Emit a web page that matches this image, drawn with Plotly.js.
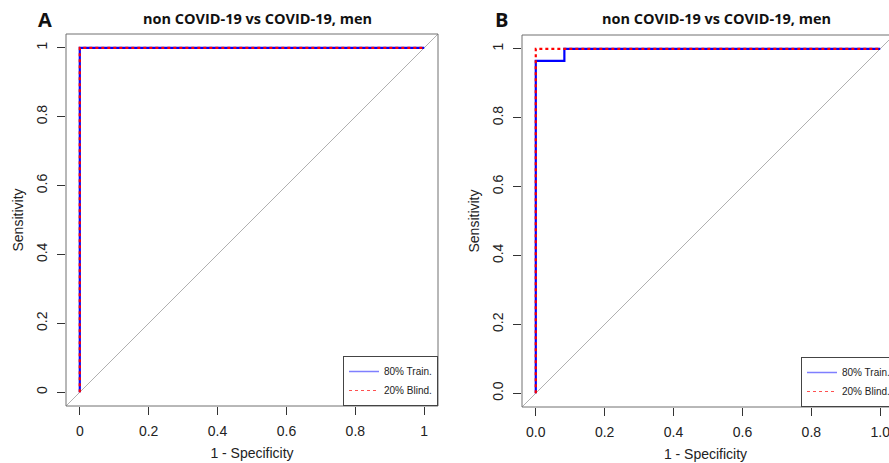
<!DOCTYPE html>
<html>
<head>
<meta charset="utf-8">
<script src="https://cdn.plot.ly/plotly-3.0.1.min.js"></script>
<style>html,body{margin:0;padding:0;background:#fff;}#chart{width:889px;height:463px;}</style>
</head>
<body>
<div id="chart"></div>
<script>
// ROC data (1 - specificity, sensitivity)
const panelTitles = ["non COVID-19 vs COVID-19, men", "non COVID-19 vs COVID-19, men"];
const panelLetters = ["A", "B"];
const seriesNames = ["80% Train.", "20% Blind."];

const fprA_train = [0, 0, 1];
const tprA_train = [0, 1, 1];
const fprA_blind = [0, 0, 1];
const tprA_blind = [0, 1, 1];

const fprB_train = [0, 0, 0.083, 0.083, 1];
const tprB_train = [0, 0.965, 0.965, 1, 1];
const fprB_blind = [0, 0, 1];
const tprB_blind = [0, 1, 1];

const diagX = [-0.04, 1.04];
const diagY = [-0.04, 1.04];

const tickVals = [0, 0.2, 0.4, 0.6, 0.8, 1];
const xTickTextA = ["0", "0.2", "0.4", "0.6", "0.8", "1"];
const yTickTextA = ["0", "0.2", "0.4", "0.6", "0.8", "1"];
const xTickTextB = ["0.0", "0.2", "0.4", "0.6", "0.8", "1.0"];
const yTickTextB = ["0.0", "0.2", "0.4", "0.6", "0.8", "1"];

const W = 889, H = 463;
const px = v => v / W;
const py = v => 1 - v / H;

const BLUE = "#0000ff";
const RED = "#ff0000";
const GRID = "#b0b0b0";
const BOX = "#707070";
const FONT = "Liberation Sans, Arial, sans-serif";
const TFONT = "Open Sans, Lato, sans-serif";
const TICKSIZE = 14;

function panelTraces(xa, ya, leg, fT, tT, fB, tB) {
  return [
    {x: diagX, y: diagY, xaxis: xa, yaxis: ya, mode: "lines", line: {color: GRID, width: 1}, showlegend: false, hoverinfo: "skip"},
    {x: fT, y: tT, xaxis: xa, yaxis: ya, mode: "lines", line: {color: BLUE, width: 2.2}, showlegend: false, name: seriesNames[0]},
    {x: fB, y: tB, xaxis: xa, yaxis: ya, mode: "lines", line: {color: RED, width: 2.2, dash: "dot"}, showlegend: false, name: seriesNames[1]},
    {x: [null], y: [null], xaxis: xa, yaxis: ya, mode: "lines", line: {color: "#7f7fff", width: 1.5}, name: seriesNames[0], legend: leg, showlegend: true},
    {x: [null], y: [null], xaxis: xa, yaxis: ya, mode: "lines", line: {color: "#ff5050", width: 1.2, dash: "dot"}, name: seriesNames[1], legend: leg, showlegend: true}
  ];
}

const data = [].concat(
  panelTraces("x", "y", "legend", fprA_train, tprA_train, fprA_blind, tprA_blind),
  panelTraces("x2", "y2", "legend2", fprB_train, tprB_train, fprB_blind, tprB_blind)
);

function xAxis(domain, range, text) {
  return {
    domain: domain, range: range, showgrid: false, zeroline: false, showline: false,
    tickmode: "array", tickvals: tickVals, ticktext: text,
    ticks: "outside", ticklen: 8, tickcolor: "#333", tickwidth: 1,
    tickfont: {family: FONT, size: TICKSIZE, color: "#222"},
    ticklabelstandoff: 4, ticklabeloverflow: "allow",
    title: {text: "1 - Specificity", font: {family: FONT, size: TICKSIZE, color: "#222"}, standoff: 10},
    fixedrange: true
  };
}
function yAxis(domain, text, anchor) {
  return {
    domain: domain, range: [-0.04, 1.04], showgrid: false, zeroline: false, showline: false,
    anchor: anchor,
    tickmode: "array", tickvals: tickVals, ticktext: text, tickangle: -90,
    ticks: "outside", ticklen: 8, tickcolor: "#333", tickwidth: 1,
    tickfont: {family: FONT, size: TICKSIZE, color: "#222"},
    ticklabelstandoff: 4, ticklabeloverflow: "allow",
    title: {text: "Sensitivity", font: {family: FONT, size: TICKSIZE, color: "#222"}, standoff: 7},
    fixedrange: true
  };
}

const boxA = {x0: 66, x1: 438, y0: 34, y1: 406};
const boxB = {x0: 522, x1: 894, y0: 35, y1: 407};
const bEnd = -0.04 + (W - boxB.x0) * 1.08 / (boxB.x1 - boxB.x0);

const layout = {
  width: W, height: H,
  margin: {l: 0, r: 0, t: 0, b: 0, autoexpand: false},
  paper_bgcolor: "#fff", plot_bgcolor: "rgba(0,0,0,0)",
  showlegend: true,
  xaxis: Object.assign(xAxis([px(boxA.x0), px(boxA.x1)], [-0.04, 1.04], xTickTextA), {anchor: "y"}),
  yaxis: yAxis([py(boxA.y1), py(boxA.y0)], yTickTextA, "x"),
  xaxis2: Object.assign(xAxis([px(boxB.x0), 1], [-0.04, bEnd], xTickTextB), {anchor: "y2"}),
  yaxis2: yAxis([py(boxB.y1), py(boxB.y0)], yTickTextB, "x2"),
  shapes: [
    {type: "rect", xref: "paper", yref: "paper", x0: px(boxA.x0), x1: px(boxA.x1), y0: py(boxA.y1), y1: py(boxA.y0), line: {color: BOX, width: 1}},
    {type: "rect", xref: "paper", yref: "paper", x0: px(boxB.x0), x1: px(boxB.x1), y0: py(boxB.y1), y1: py(boxB.y0), line: {color: BOX, width: 1}}
  ],
  legend: {
    x: px(boxA.x1), xanchor: "right", y: py(boxA.y1), yanchor: "bottom",
    bgcolor: "#fff", bordercolor: "#444", borderwidth: 1,
    font: {family: FONT, size: 10, color: "#222"}, itemwidth: 30, tracegroupgap: 0
  },
  legend2: {
    x: px(801), xanchor: "left", y: py(boxB.y1), yanchor: "bottom",
    bgcolor: "#fff", bordercolor: "#444", borderwidth: 1,
    font: {family: FONT, size: 10, color: "#222"}, itemwidth: 30, tracegroupgap: 0
  },
  annotations: [
    {text: "<b>" + panelTitles[0] + "</b>", xref: "paper", yref: "paper", x: px(257), y: py(18), xanchor: "center", yanchor: "middle", showarrow: false, font: {family: TFONT, size: 14.5, color: "#111"}},
    {text: "<b>" + panelTitles[1] + "</b>", xref: "paper", yref: "paper", x: px(716), y: py(18), xanchor: "center", yanchor: "middle", showarrow: false, font: {family: TFONT, size: 14.5, color: "#111"}},
    {text: "<b>" + panelLetters[0] + "</b>", xref: "paper", yref: "paper", x: px(45), y: py(19), xanchor: "center", yanchor: "middle", showarrow: false, font: {family: TFONT, size: 20, color: "#111"}},
    {text: "<b>" + panelLetters[1] + "</b>", xref: "paper", yref: "paper", x: px(502), y: py(19), xanchor: "center", yanchor: "middle", showarrow: false, font: {family: TFONT, size: 20, color: "#111"}}
  ]
};

Plotly.newPlot("chart", data, layout, {staticPlot: true, displayModeBar: false});
</script>
</body>
</html>
